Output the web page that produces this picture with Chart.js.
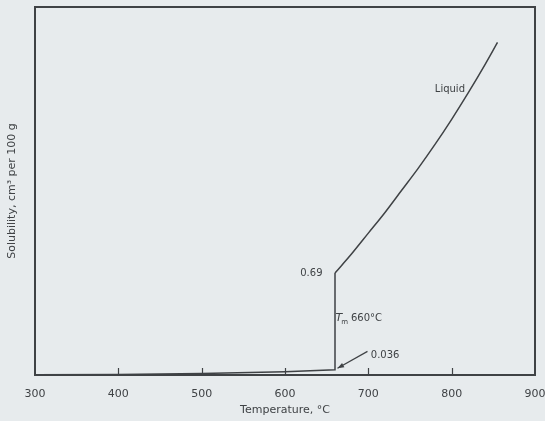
<!DOCTYPE html>
<html>
<head>
<meta charset="utf-8">
<script src="https://cdn.jsdelivr.net/npm/chart.js@4"></script>
<style>
  body { margin: 0; background: #e7ebed; }
  #wrap { width: 545px; height: 421px; }
</style>
</head>
<body>
<div id="wrap"><canvas id="myChart" width="545" height="421"></canvas></div>
<script>
// temperature (°C) and hydrogen solubility (cm3 per 100 g)
// solid part incl. the jump at the melting point
const solidTemps = [300, 400, 500, 600, 660, 660];
const solidSol = [0.001, 0.004, 0.010, 0.022, 0.036, 0.69];
// liquid part
const liquidTemps = [660, 680, 700, 720, 740, 760, 780, 800, 820, 840, 855];
const liquidSol = [0.69, 0.82, 0.96, 1.10, 1.25, 1.40, 1.56, 1.73, 1.91, 2.10, 2.25];
const xTicks = [300, 400, 500, 600, 700, 800, 900];

const ink = "#3f4245";
const font = "DejaVu Sans, sans-serif";

const toPts = (xs, ys) => xs.map((t, i) => ({ x: t, y: ys[i] }));

// labels + arrow + inner tick marks
const extras = {
  id: "extras",
  afterDraw(chart) {
    const c = chart.ctx;
    const x = chart.scales.x, y = chart.scales.y;
    const area = chart.chartArea;
    c.save();
    c.strokeStyle = ink;
    c.lineWidth = 1.2;
    // inner tick marks
    xTicks.slice(1, -1).forEach(t => {
      const px = Math.round(x.getPixelForValue(t)) + 0.5;
      c.beginPath();
      c.moveTo(px, area.bottom);
      c.lineTo(px, area.bottom - 7);
      c.stroke();
    });
    c.fillStyle = ink;
    c.font = "10px " + font;
    c.textBaseline = "middle";
    c.textAlign = "right";
    c.fillText("0.69", x.getPixelForValue(645), y.getPixelForValue(0.69));
    c.fillText("Liquid", x.getPixelForValue(816), y.getPixelForValue(1.93));
    c.textAlign = "left";
    // Tm label
    let tx = x.getPixelForValue(660.5), ty = y.getPixelForValue(0.386);
    c.font = "italic 11px " + font;
    c.fillText("T", tx, ty);
    let w = c.measureText("T").width;
    c.font = "7px " + font;
    c.fillText("m", tx + w - 1, ty + 4);
    w += c.measureText("m").width + 2;
    c.font = "10px " + font;
    c.fillText("660°C", tx + w, ty);
    // 0.036 and arrow
    c.fillText("0.036", x.getPixelForValue(703), y.getPixelForValue(0.13));
    const ax0 = x.getPixelForValue(699), ay0 = y.getPixelForValue(0.16);
    const ax1 = x.getPixelForValue(663), ay1 = y.getPixelForValue(0.045);
    c.beginPath();
    c.moveTo(ax0, ay0);
    c.lineTo(ax1, ay1);
    c.stroke();
    const ang = Math.atan2(ay1 - ay0, ax1 - ax0);
    c.beginPath();
    c.moveTo(ax1, ay1);
    c.lineTo(ax1 - 7 * Math.cos(ang - 0.35), ay1 - 7 * Math.sin(ang - 0.35));
    c.lineTo(ax1 - 7 * Math.cos(ang + 0.35), ay1 - 7 * Math.sin(ang + 0.35));
    c.closePath();
    c.fill();
    c.restore();
  }
};

const noPad = s => { s.paddingLeft = 0; s.paddingRight = 0; s.paddingTop = 0; s.paddingBottom = 0; };

const config = {
  type: "scatter",
  data: {
    datasets: [
      {
        data: toPts(solidTemps, solidSol),
        showLine: true, borderColor: ink, borderWidth: 1.5,
        pointRadius: 0, tension: 0, fill: false,
      },
      {
        data: toPts(liquidTemps, liquidSol),
        showLine: true, borderColor: ink, borderWidth: 1.5,
        pointRadius: 0, cubicInterpolationMode: "monotone", fill: false,
      },
    ],
  },
  options: {
    responsive: false,
    animation: false,
    layout: { padding: 0 },
    plugins: { legend: { display: false }, tooltip: { enabled: false } },
    scales: {
      x: {
        type: "linear",
        min: 300, max: 900,
        afterBuildTicks: s => { s.ticks = xTicks.map(v => ({ value: v })); },
        afterFit: s => { s.height = 46; noPad(s); },
        grid: { display: false },
        border: { color: ink, width: 2 },
        ticks: { color: ink, font: { family: font, size: 11 }, padding: 5, maxRotation: 0 },
        title: { display: true, text: "Temperature, °C", color: ink, font: { family: font, size: 11 }, padding: { top: 6 } },
      },
      x2: {
        type: "linear", position: "top", min: 300, max: 900,
        afterFit: s => { s.height = 7; noPad(s); },
        grid: { display: false },
        border: { color: ink, width: 2 },
        ticks: { display: false },
      },
      y: {
        min: 0, max: 2.49,
        afterFit: s => { s.width = 35; noPad(s); },
        grid: { display: false },
        border: { color: ink, width: 2 },
        ticks: { display: false },
        title: { display: true, text: "Solubility, cm³ per 100 g", color: ink, font: { family: font, size: 11 }, padding: { top: 6, bottom: 8 } },
      },
      y2: {
        position: "right", min: 0, max: 2.49,
        afterFit: s => { s.width = 10; noPad(s); },
        grid: { display: false },
        border: { color: ink, width: 2 },
        ticks: { display: false },
      },
    },
  },
  plugins: [extras],
};

const myChart = new Chart(document.getElementById("myChart").getContext("2d"), config);
</script>
</body>
</html>
